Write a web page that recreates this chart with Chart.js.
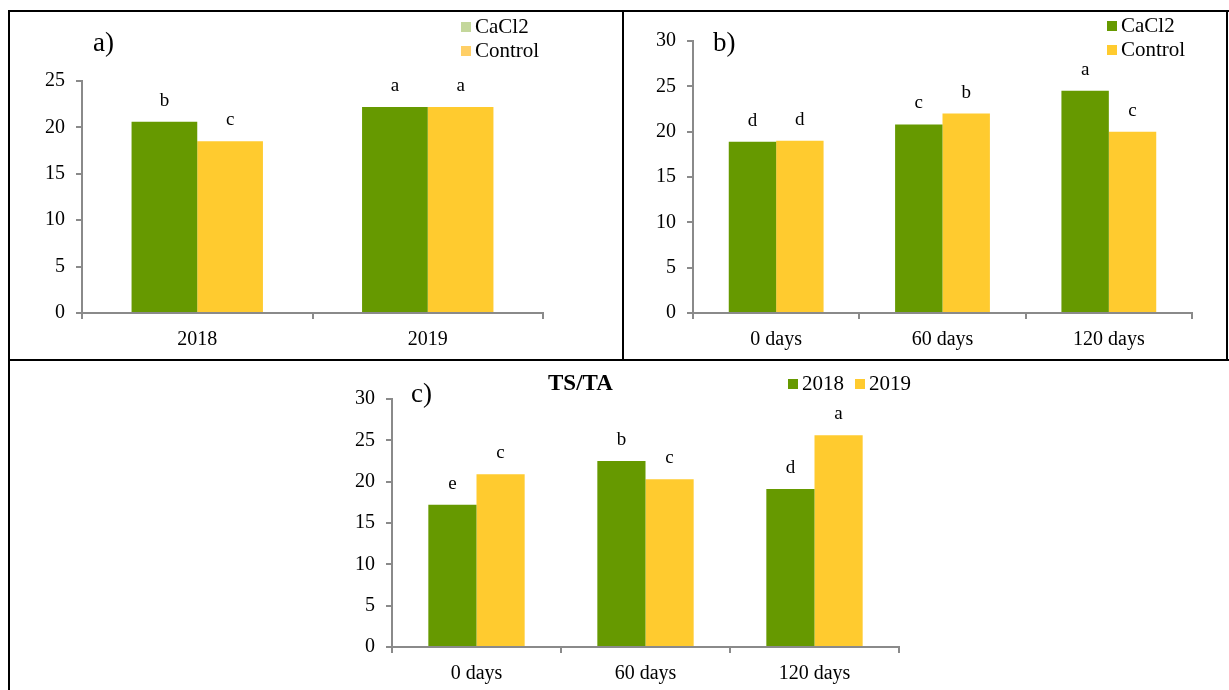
<!DOCTYPE html>
<html>
<head>
<meta charset="utf-8">
<script src="https://cdn.jsdelivr.net/npm/chart.js@4.4.0/dist/chart.umd.min.js"></script>
<style>
  body { margin: 0; background: #fff; font-family: "Liberation Serif", "Times New Roman", serif; }
  #page { position: relative; width: 1229px; height: 690px; overflow: hidden; }
  .line { position: absolute; background: #000; }
  .box { position: absolute; }
  .tag { position: absolute; font-size: 27px; line-height: 1; color: #000; }
  .legend { position: absolute; font-size: 21px; line-height: 24px; color: #000; white-space: nowrap; }
  .sw { display: inline-block; width: 10px; height: 10px; margin-right: 4px; vertical-align: 1px; }
  .title { position: absolute; font-size: 23px; font-weight: bold; color: #000; line-height: 1; }
</style>
</head>
<body>
<div id="page">
  <!-- frame -->
  <div class="line" style="left:8px;top:10px;width:1221px;height:2px"></div>
  <div class="line" style="left:8px;top:10px;width:2px;height:680px"></div>
  <div class="line" style="left:622px;top:10px;width:2px;height:351px"></div>
  <div class="line" style="left:8px;top:359px;width:1221px;height:2px"></div>
  <div class="line" style="left:1226px;top:10px;width:2px;height:351px"></div>

  <div class="box" style="left:10px;top:12px;width:610px;height:346px"><canvas id="chartA"></canvas></div>
  <div class="box" style="left:624px;top:12px;width:602px;height:346px"><canvas id="chartB"></canvas></div>
  <div class="box" style="left:330px;top:362px;width:620px;height:328px"><canvas id="chartC"></canvas></div>

  <div class="tag" style="left:93px;top:29px">a)</div>
  <div class="tag" style="left:713px;top:29px">b)</div>
  <div class="tag" style="left:411px;top:380px">c)</div>
  <div class="title" style="left:548px;top:371px">TS/TA</div>

  <div class="legend" style="left:461px;top:14px">
    <div><span class="sw" style="background:#c4d79b"></span>CaCl2</div>
    <div><span class="sw" style="background:#ffcf66"></span>Control</div>
  </div>
  <div class="legend" style="left:1107px;top:13px">
    <div><span class="sw" style="background:#669900"></span>CaCl2</div>
    <div><span class="sw" style="background:#ffcb2f"></span>Control</div>
  </div>
  <div class="legend" style="left:788px;top:371px"><span class="sw" style="background:#669900"></span>2018</div>
  <div class="legend" style="left:855px;top:371px"><span class="sw" style="background:#ffcb2f"></span>2019</div>
</div>

<script>
// panel a) years
const yearsA = ["2018", "2019"];
const cacl2A = [20.6, 22.2];
const controlA = [18.5, 22.2];
const lettersCacl2A = ["b", "a"];
const lettersControlA = ["c", "a"];

// panel b) storage days
const daysB = ["0 days", "60 days", "120 days"];
const cacl2B = [18.9, 20.8, 24.5];
const controlB = [19.0, 22.0, 20.0];
const lettersCacl2B = ["d", "c", "a"];
const lettersControlB = ["d", "b", "c"];

// panel c) TS/TA by year
const daysC = ["0 days", "60 days", "120 days"];
const y2018C = [17.2, 22.5, 19.1];
const y2019C = [20.9, 20.3, 25.6];
const letters2018C = ["e", "b", "d"];
const letters2019C = ["c", "c", "a"];

const GREEN = "#669900";
const GOLD = "#ffcb2f";
const AXIS = "#8a8a8a";
const FONT = "'Liberation Serif', 'Times New Roman', serif";

const lettersPlugin = {
  id: "letters",
  afterDatasetsDraw(chart) {
    const ctx = chart.ctx;
    ctx.save();
    ctx.font = "19px " + FONT;
    ctx.fillStyle = "#000";
    ctx.textAlign = "center";
    ctx.textBaseline = "middle";
    chart.data.datasets.forEach((ds, di) => {
      chart.getDatasetMeta(di).data.forEach((bar, i) => {
        ctx.fillText(ds.letters[i], bar.x, bar.y - 21);
      });
    });
    ctx.restore();
  }
};

function makeChart(id, labels, s1, s2, l1, l2, yMax, yWidth, xHeight, pad) {
  return new Chart(document.getElementById(id), {
    type: "bar",
    data: {
      labels,
      datasets: [
        { data: s1, letters: l1, backgroundColor: GREEN, categoryPercentage: 0.57, barPercentage: 1 },
        { data: s2, letters: l2, backgroundColor: GOLD, categoryPercentage: 0.57, barPercentage: 1 }
      ]
    },
    options: {
      responsive: true,
      maintainAspectRatio: false,
      animation: false,
      layout: { padding: pad },
      plugins: { legend: { display: false }, tooltip: { enabled: false } },
      scales: {
        x: {
          grid: { drawOnChartArea: false, drawTicks: true, tickLength: 6, color: AXIS, lineWidth: 2 },
          border: { color: AXIS, width: 2 },
          ticks: { color: "#000", font: { family: FONT, size: 20 }, padding: 9 },
          afterFit: s => { s.height = xHeight; }
        },
        y: {
          min: 0,
          max: yMax,
          grid: { drawOnChartArea: false, drawTicks: true, tickLength: 6, color: AXIS, lineWidth: 2 },
          border: { color: AXIS, width: 2 },
          ticks: { stepSize: 5, color: "#000", font: { family: FONT, size: 20 }, padding: 11 },
          afterFit: s => { s.width = yWidth; }
        }
      }
    },
    plugins: [lettersPlugin]
  });
}

makeChart("chartA", yearsA, cacl2A, controlA, lettersCacl2A, lettersControlA, 25, 72, 45,
  { top: 69, right: 77, bottom: 0, left: 0 });
makeChart("chartB", daysB, cacl2B, controlB, lettersCacl2B, lettersControlB, 30, 69, 45,
  { top: 29, right: 34, bottom: 0, left: 0 });
makeChart("chartC", daysC, y2018C, y2019C, letters2018C, letters2019C, 30, 62, 43,
  { top: 37, right: 51, bottom: 0, left: 0 });
</script>
</body>
</html>
